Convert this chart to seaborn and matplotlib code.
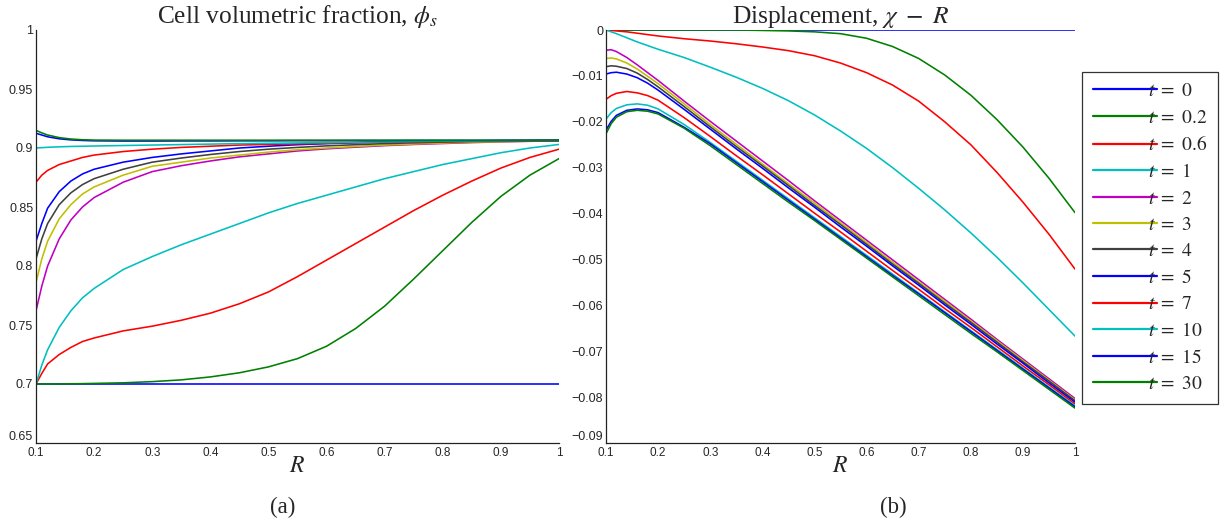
import matplotlib

matplotlib.use("Agg")

import matplotlib.pyplot as plt
import pandas as pd
import seaborn as sns


# ---- data ------------------------------------------------------------------
R = [0.1, 0.11, 0.12, 0.14, 0.16, 0.18, 0.2, 0.25, 0.3, 0.35, 0.4, 0.45,
     0.5, 0.55, 0.6, 0.65, 0.7, 0.75, 0.8, 0.85, 0.9, 0.95, 1.0]

T_VALUES = ["0", "0.2", "0.6", "1", "2", "3", "4", "5", "7", "10", "15", "30"]

# (a) cell volumetric fraction phi_s
phi_t0 = [0.7] * 23
phi_t02 = [0.700, 0.700, 0.700, 0.700, 0.7002, 0.7003, 0.7005, 0.701, 0.702, 0.7035, 0.706, 0.7095,
           0.7145, 0.7215, 0.732, 0.747, 0.766, 0.789, 0.813, 0.837, 0.859, 0.877, 0.891]
phi_t06 = [0.700, 0.709, 0.717, 0.725, 0.731, 0.736, 0.739, 0.745, 0.749, 0.754, 0.760, 0.768,
           0.778, 0.791, 0.805, 0.819, 0.833, 0.847, 0.860, 0.872, 0.883, 0.892, 0.899]
phi_t1 = [0.700, 0.716, 0.729, 0.748, 0.762, 0.773, 0.781, 0.797, 0.808, 0.818, 0.827, 0.836,
          0.845, 0.853, 0.860, 0.867, 0.874, 0.880, 0.886, 0.891, 0.896, 0.900, 0.903]
phi_t2 = [0.762, 0.783, 0.800, 0.823, 0.839, 0.850, 0.858, 0.871, 0.880, 0.885, 0.889, 0.8925,
          0.895, 0.8975, 0.8993, 0.9007, 0.902, 0.903, 0.9038, 0.9046, 0.9052, 0.9057, 0.906]
phi_t3 = [0.786, 0.806, 0.821, 0.840, 0.852, 0.861, 0.867, 0.877, 0.8845, 0.888, 0.8915, 0.894,
          0.8965, 0.8985, 0.900, 0.9013, 0.9025, 0.9034, 0.9042, 0.9049, 0.9054, 0.9058, 0.9062]
phi_t4 = [0.806, 0.823, 0.836, 0.852, 0.862, 0.869, 0.874, 0.882, 0.888, 0.8915, 0.8945, 0.897,
          0.899, 0.9005, 0.9018, 0.9028, 0.9037, 0.9044, 0.905, 0.9055, 0.9058, 0.9061, 0.9063]
phi_t5 = [0.821, 0.836, 0.849, 0.863, 0.872, 0.878, 0.882, 0.888, 0.892, 0.895, 0.8975, 0.900,
          0.9015, 0.9028, 0.9037, 0.9045, 0.905, 0.9054, 0.9057, 0.906, 0.9062, 0.9063, 0.9064]
phi_t7 = [0.871, 0.877, 0.881, 0.886, 0.889, 0.892, 0.894, 0.897, 0.899, 0.9005, 0.9015, 0.9025,
          0.903, 0.9035, 0.904, 0.9045, 0.905, 0.9052, 0.9055, 0.9058, 0.906, 0.9062, 0.9064]
phi_t10 = [0.900, 0.9003, 0.9006, 0.901, 0.9013, 0.9015, 0.9017, 0.9021, 0.9025, 0.9029, 0.9033, 0.9037,
           0.904, 0.9043, 0.9046, 0.9049, 0.9052, 0.9055, 0.9057, 0.9059, 0.9061, 0.9063, 0.9064]
phi_t15 = [0.9125, 0.911, 0.9095, 0.9078, 0.9069, 0.9064, 0.9061, 0.9059, 0.9059, 0.906, 0.906, 0.9061,
           0.9061, 0.9062, 0.9062, 0.9063, 0.9063, 0.9064, 0.9064, 0.9064, 0.9065, 0.9065, 0.9065]
phi_t30 = [0.915, 0.9128, 0.911, 0.9088, 0.9076, 0.907, 0.9067, 0.9066, 0.9066, 0.9066, 0.9066, 0.9066,
           0.9066, 0.9066, 0.9066, 0.9066, 0.9066, 0.9066, 0.9066, 0.9066, 0.9066, 0.9066, 0.9066]

# (b) displacement chi - R
disp_t0 = [0.0] * 23
disp_t02 = [0, 0, 0, 0, 0, 0, 0, 0, 0, 0, -0.0001, -0.0002,
            -0.0004, -0.0008, -0.0018, -0.0036, -0.0062, -0.0098, -0.0142, -0.0195, -0.0255, -0.0323, -0.0398]
disp_t06 = [0, -0.0001, -0.0002, -0.0004, -0.0007, -0.0010, -0.0013, -0.0019, -0.0024, -0.0030, -0.0037, -0.0045,
            -0.0056, -0.0072, -0.0093, -0.0120, -0.0155, -0.0200, -0.0250, -0.0310, -0.0375, -0.0445, -0.0521]
disp_t1 = [0, -0.0004, -0.0008, -0.0017, -0.0026, -0.0034, -0.0042, -0.0060, -0.0081, -0.0103, -0.0127, -0.0154,
           -0.0185, -0.0220, -0.0258, -0.0300, -0.0345, -0.0392, -0.0442, -0.0495, -0.0551, -0.0609, -0.0667]
disp_t2 = [-0.0044, -0.0043, -0.0047, -0.0060, -0.0076, -0.0093, -0.0110, -0.0155, -0.0199, -0.0242, -0.0285, -0.0328,
           -0.0372, -0.0415, -0.0458, -0.0501, -0.0544, -0.0587, -0.0630, -0.0674, -0.0717, -0.0760, -0.0803]
disp_t3 = [-0.0062, -0.0061, -0.0063, -0.0072, -0.0085, -0.0101, -0.0117, -0.0161, -0.0206, -0.0249, -0.0292, -0.0335,
           -0.0377, -0.0420, -0.0463, -0.0506, -0.0549, -0.0591, -0.0634, -0.0677, -0.0720, -0.0763, -0.0806]
disp_t4 = [-0.0080, -0.0078, -0.0079, -0.0084, -0.0094, -0.0108, -0.0124, -0.0167, -0.0211, -0.0254, -0.0296, -0.0339,
           -0.0382, -0.0424, -0.0467, -0.0510, -0.0552, -0.0595, -0.0637, -0.0680, -0.0723, -0.0765, -0.0808]
disp_t5 = [-0.0096, -0.0093, -0.0092, -0.0096, -0.0104, -0.0116, -0.0131, -0.0173, -0.0216, -0.0259, -0.0301, -0.0344,
           -0.0386, -0.0429, -0.0471, -0.0514, -0.0556, -0.0599, -0.0641, -0.0684, -0.0726, -0.0769, -0.0811]
disp_t7 = [-0.0151, -0.0143, -0.0138, -0.0134, -0.0137, -0.0143, -0.0153, -0.0191, -0.0232, -0.0274, -0.0315, -0.0357,
           -0.0399, -0.0440, -0.0482, -0.0524, -0.0565, -0.0607, -0.0648, -0.0690, -0.0732, -0.0773, -0.0815]
disp_t10 = [-0.0194, -0.0180, -0.0171, -0.0163, -0.0161, -0.0164, -0.0172, -0.0206, -0.0245, -0.0286, -0.0327, -0.0368,
            -0.0409, -0.0450, -0.0491, -0.0532, -0.0573, -0.0614, -0.0655, -0.0696, -0.0737, -0.0778, -0.0819]
disp_t15 = [-0.0218, -0.0199, -0.0186, -0.0175, -0.0172, -0.0174, -0.0180, -0.0212, -0.0248, -0.0289, -0.0330, -0.0371,
            -0.0412, -0.0453, -0.0494, -0.0535, -0.0575, -0.0616, -0.0657, -0.0698, -0.0739, -0.0780, -0.0821]
disp_t30 = [-0.0226, -0.0204, -0.0190, -0.0178, -0.0175, -0.0177, -0.0183, -0.0214, -0.0252, -0.0293, -0.0334, -0.0375,
            -0.0415, -0.0456, -0.0497, -0.0538, -0.0579, -0.0620, -0.0661, -0.0701, -0.0742, -0.0783, -0.0824]

PHI = [phi_t0, phi_t02, phi_t06, phi_t1, phi_t2, phi_t3, phi_t4, phi_t5, phi_t7, phi_t10, phi_t15, phi_t30]
DISP = [disp_t0, disp_t02, disp_t06, disp_t1, disp_t2, disp_t3, disp_t4, disp_t5, disp_t7, disp_t10, disp_t15, disp_t30]

X_TICKS = [0.1, 0.2, 0.3, 0.4, 0.5, 0.6, 0.7, 0.8, 0.9, 1.0]
X_TICKLABELS = ["0.1", "0.2", "0.3", "0.4", "0.5", "0.6", "0.7", "0.8", "0.9", "1"]
PHI_TICKS = [0.65, 0.7, 0.75, 0.8, 0.85, 0.9, 0.95, 1.0]
PHI_TICKLABELS = ["0.65", "0.7", "0.75", "0.8", "0.85", "0.9", "0.95", "1"]
DISP_TICKS = [-0.09, -0.08, -0.07, -0.06, -0.05, -0.04, -0.03, -0.02, -0.01, 0.0]
DISP_TICKLABELS = ["\u22120.09", "\u22120.08", "\u22120.07", "\u22120.06", "\u22120.05",
                   "\u22120.04", "\u22120.03", "\u22120.02", "\u22120.01", "0"]

# MATLAB default line colours, cycled the way the original figure did
COLORS = ["#0000ff", "#008000", "#ff0000", "#00bfbf", "#bf00bf", "#bfbf00",
          "#404040", "#0000ff", "#ff0000", "#00bfbf", "#0000ff", "#008000"]

SERIF = ["Liberation Serif", "DejaVu Serif"]


def _long_frame(series: list[list[float]]) -> pd.DataFrame:
    rows = []
    for t, vals in zip(T_VALUES, series):
        for r, v in zip(R, vals):
            rows.append({"R": r, "value": v, "t": f"$t\\ =\\ {t}$"})
    return pd.DataFrame(rows)


def _style_axis(ax, yticks, yticklabels, ylim) -> None:
    ax.set_xlim(0.1, 1.0)
    ax.set_ylim(*ylim)
    ax.set_xticks(X_TICKS)
    ax.set_xticklabels(X_TICKLABELS, fontsize=8.5)
    ax.set_yticks(yticks)
    ax.set_yticklabels(yticklabels, fontsize=9)
    ax.tick_params(direction="in", length=4, width=0.8)
    ax.tick_params(axis="y", pad=2)
    ax.tick_params(axis="x", pad=3)
    # bottom y label sits on the axis line, as in the MATLAB export
    ax.get_yticklabels()[0].set_verticalalignment("bottom")
    for side in ("top", "right"):
        ax.spines[side].set_visible(False)
    for side in ("left", "bottom"):
        ax.spines[side].set_color("#222222")
        ax.spines[side].set_linewidth(0.9)
    ax.set_xlabel("$R$", fontsize=17, labelpad=-3)
    ax.set_ylabel("")


def main() -> None:
    sns.set_style("white")
    plt.rcParams["font.family"] = ["Liberation Sans", "DejaVu Sans"]
    plt.rcParams["mathtext.fontset"] = "stix"

    fig = plt.figure(figsize=(12.27, 5.27), dpi=100)
    ax_a = fig.add_axes([36 / 1227, 1 - 443 / 527, 523 / 1227, 413 / 527])
    ax_b = fig.add_axes([606 / 1227, 1 - 443 / 527, 469 / 1227, 413 / 527])

    hue_names = [f"$t\\ =\\ {t}$" for t in T_VALUES]
    palette = dict(zip(hue_names, COLORS))

    sns.lineplot(data=_long_frame(PHI), x="R", y="value", hue="t", palette=palette,
                 sort=False, estimator=None, linewidth=1.15, ax=ax_a, legend=False)
    sns.lineplot(data=_long_frame(DISP), x="R", y="value", hue="t", palette=palette,
                 sort=False, estimator=None, linewidth=1.15, ax=ax_b, legend=True)

    _style_axis(ax_a, PHI_TICKS, PHI_TICKLABELS, (0.65, 1.0))
    _style_axis(ax_b, DISP_TICKS, DISP_TICKLABELS, (-0.09, 0.0))

    ax_a.set_title("Cell volumetric fraction, $\\phi_s$", fontsize=18.3, family=SERIF, pad=5)
    ax_b.set_title("Displacement, $\\chi\\ -\\ R$", fontsize=18.3, family=SERIF, pad=5)

    handles, labels = ax_b.get_legend_handles_labels()
    ax_b.get_legend().remove()
    for h in handles:
        h.set_linewidth(1.6)
    leg = fig.legend(handles, labels, loc="upper left", bbox_to_anchor=(1082 / 1227, 1 - 72 / 527),
                     bbox_transform=fig.transFigure, frameon=True, fancybox=False,
                     edgecolor="black", fontsize=14, handlelength=3.3, handletextpad=-0.45,
                     labelspacing=0.45, borderpad=0.55, borderaxespad=0)
    leg.get_frame().set_linewidth(0.9)

    fig.text(283 / 1227, 1 - 507 / 527, "(a)", ha="center", va="center", fontsize=16.5, family=SERIF)
    fig.text(893 / 1227, 1 - 507 / 527, "(b)", ha="center", va="center", fontsize=16.5, family=SERIF)

    fig.savefig("out.png", dpi=100)
    plt.close(fig)


if __name__ == "__main__":
    main()
